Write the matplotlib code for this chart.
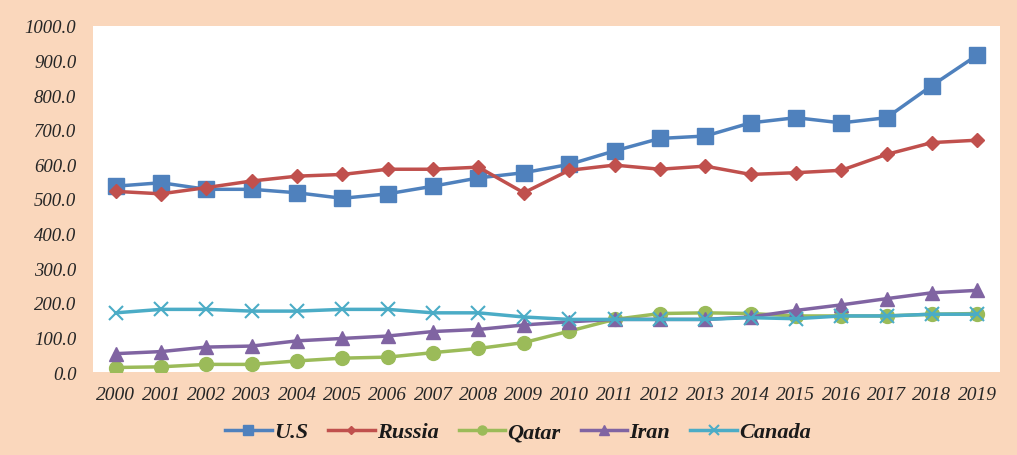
import matplotlib
matplotlib.use("Agg")
import matplotlib.pyplot as plt

years = [str(y) for y in range(2000, 2020)]
us = [537, 547, 528, 528, 518, 502, 515, 537, 561, 576, 600, 639, 675, 682, 720, 735, 720, 735, 828, 916]
russia = [522, 515, 533, 552, 566, 571, 586, 586, 592, 518, 583, 598, 586, 595, 571, 576, 583, 629, 663, 670]
qatar = [13, 15, 22, 22, 32, 40, 43, 56, 68, 85, 118, 152, 169, 171, 169, 162, 162, 162, 167, 169]
iran = [53, 59, 72, 75, 90, 97, 104, 117, 123, 136, 145, 152, 152, 152, 159, 178, 194, 212, 229, 236]
canada = [171, 181, 181, 176, 176, 181, 181, 171, 171, 159, 152, 152, 152, 152, 157, 154, 162, 162, 167, 167]
labels = ["U.S", "Russia", "Qatar", "Iran", "Canada"]
yticks = [0, 100, 200, 300, 400, 500, 600, 700, 800, 900, 1000]

bg = "#FAD7BC"
fig = plt.figure(figsize=(10.17, 4.56), dpi=100, facecolor=bg)
ax = fig.add_axes([93/1017, 1 - 373/456, (1000-93)/1017, (373-27)/456])
ax.set_facecolor("white")

x = list(range(len(years)))
styles = [
    (us, "#4F81BD", "s", 11),
    (russia, "#C0504D", "D", 7),
    (qatar, "#9BBB59", "o", 10),
    (iran, "#8064A2", "^", 10),
    (canada, "#4BACC6", "x", 10),
]
handles = []
for (vals, col, m, ms), lab in zip(styles, labels):
    kw = dict(color=col, lw=2.5, marker=m, markersize=ms, label=lab)
    if m == "x":
        kw["markeredgewidth"] = 1.5
    h, = ax.plot(x, vals, **kw)
    handles.append(h)

ax.set_xlim(-0.5, len(years) - 0.5)
ax.set_ylim(0, 1000)
ax.set_xticks(x)
ax.set_xticklabels(years)
ax.set_yticks(yticks)
ax.set_yticklabels([f"{v:.1f}" for v in yticks])
for s in ax.spines.values():
    s.set_visible(False)
ax.tick_params(axis="y", length=0, labelsize=13.5, pad=12)
ax.tick_params(axis="x", length=0, labelsize=14, pad=10)
for t in ax.get_xticklabels() + ax.get_yticklabels():
    t.set_fontfamily("Liberation Serif")
    t.set_fontstyle("italic")
    t.set_color("#262626")

leg = fig.legend(handles=handles, loc="center", bbox_to_anchor=(518/1017, 1 - 433/456),
                 ncol=5, frameon=False, handlelength=2.1, handletextpad=0.1,
                 columnspacing=0.9,
                 prop={"family": "Liberation Serif", "style": "italic", "weight": "bold", "size": 16},
                 markerscale=0.65)
for t in leg.get_texts():
    t.set_color("#1a1a1a")

fig.savefig("out.png", dpi=100, facecolor=bg)
